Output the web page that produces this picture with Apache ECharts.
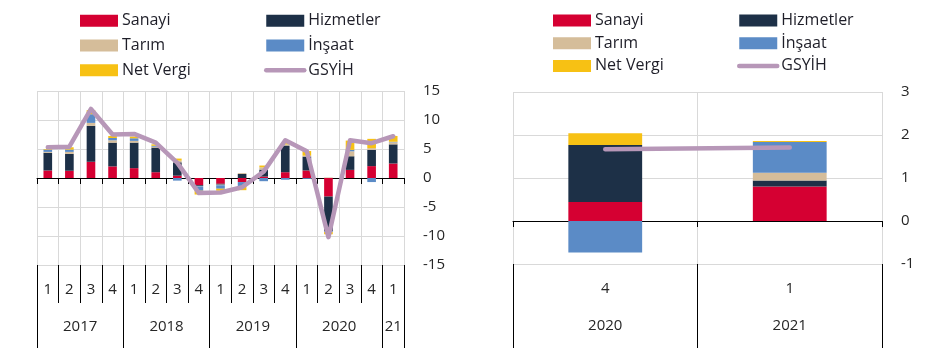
<!DOCTYPE html>
<html><head><meta charset="utf-8">
<script src="https://cdn.jsdelivr.net/npm/echarts@6/dist/echarts.min.js"></script>
<style>html,body{margin:0;padding:0;background:#fff}#c{width:935px;height:348px}</style>
</head><body><div id="c"></div>
<script>
// ---------- Left panel data (annual % change contributions) ----------
const quarters = ['1','2','3','4','1','2','3','4','1','2','3','4','1','2','3','4','1'];
const years = ['2017','2018','2019','2020','21'];
const yearQuarterCounts = [4,4,4,4,1];
const sanayi    = [1.3, 1.25, 2.8, 2.0, 1.7, 1.0, 0.4, -1.25, -1.0, -0.7, 0.25, 1.0, 1.3, -3.2, 1.4, 2.05, 2.5];
const hizmetler = [3.05, 2.9, 6.2, 4.1, 4.4, 4.25, 2.3, -0.15, -0.15, 0.7, 1.2, 4.6, 2.4, -6.0, 2.35, 2.8, 3.3];
const tarim     = [0.15, 0.35, 0.5, 0.4, 0.3, 0.15, 0.3, -0.05, -0.1, 0.15, 0.4, 0.2, 0.15, 0.1, 0.85, 0.3, 0.35];
const insaat    = [0.4, 0.4, 1.5, 0.4, 0.45, 0.15, -0.45, -0.75, -0.6, -0.7, -0.55, -0.3, -0.15, -0.1, 0.25, -0.7, 0.1];
const netVergi  = [0.1, 0.4, 0.7, 0.35, 0.3, 0.25, 0.35, -0.65, -0.35, -0.7, 0.3, 0.2, 0.8, -0.4, 1.6, 1.6, 1.0];
const gsyih     = [5.3, 5.4, 11.9, 7.5, 7.6, 6.1, 2.6, -2.6, -2.5, -1.6, 1.1, 6.5, 4.6, -10.2, 6.5, 6.0, 7.2];
const leftTicks = {min: -15, max: 15, interval: 5};

// ---------- Right panel data (quarterly % change contributions) ----------
const rQuarters = ['4','1'];
const rYears = ['2020','2021'];
const rSanayi    = [0.44, 0.80];
const rHizmetler = [1.33, 0.14];
const rTarim     = [0.0, 0.18];
const rInsaat    = [-0.73, 0.72];
const rNetVergi  = [0.27, 0.02];
const rGsyih     = [1.67, 1.71];
const rightTicks = {min: -1, max: 3, interval: 1};

const colors = {'Sanayi':'#d50032','Hizmetler':'#1d3047','Tarım':'#d5bd9a','İnşaat':'#5b8bc6','Net Vergi':'#f7c114','GSYİH':'#b797b8'};

// year boundaries / label centers derived from quarter counts
const yearBounds = [0];
const yearCenters = [];
yearQuarterCounts.forEach(n => { const s = yearBounds[yearBounds.length-1]; yearCenters.push(s + n/2); yearBounds.push(s + n); });

const FONT = 'Open Sans';
const TXT = '#262626';
const GRIDC = '#d9d9d9';

function bar(name, data, xi, yi, stack) {
  return {name, type:'bar', data, xAxisIndex:xi, yAxisIndex:yi, stack, barWidth:'40%',
    itemStyle:{color:colors[name]}, emphasis:{disabled:true}};
}
function line(data, xi, yi) {
  return {name:'GSYİH', type:'line', data, xAxisIndex:xi, yAxisIndex:yi, symbol:'none', z:5,
    lineStyle:{color:colors['GSYİH'], width:4.5, cap:'round', join:'round'}, itemStyle:{color:colors['GSYİH']},
    emphasis:{disabled:true}};
}
function legend(left, top, data, gap) {
  return {left, top, orient:'vertical', padding:0, itemWidth:38, itemHeight:12, itemGap:gap,
    selectedMode:false,
    data: data.map(n => n === 'GSYİH'
      ? {name:n, itemStyle:{opacity:0}, lineStyle:{width:4.5, cap:'round', color:colors['GSYİH']}}
      : {name:n, icon:'rect'}),
    textStyle:{fontFamily:FONT, fontSize:16, color:'#1e1e28', lineHeight:16, padding:[0,0,0,-1]}};
}

const option = {
  animation:false,
  legend:[
    legend(80, 12.8, ['Sanayi','Tarım','Net Vergi'], 8.7),
    legend(264, 12.8, ['Hizmetler','İnşaat','GSYİH'], 8.7),
    legend(553, 12.5, ['Sanayi','Tarım','Net Vergi'], 6.7),
    legend(737, 12.5, ['Hizmetler','İnşaat','GSYİH'], 6.7)
  ],
  grid:[
    {left:37, width:367, top:91, height:174},
    {left:513, width:369, top:92, height:172}
  ],
  xAxis:[
    {gridIndex:0, type:'category', data:quarters, position:'bottom',
      axisLine:{onZero:true, lineStyle:{color:'#000', width:1}},
      axisTick:{show:true, interval:0, length:6, lineStyle:{color:'#000'}},
      axisLabel:{show:false, interval:0},
      splitLine:{show:true, interval:0, lineStyle:{color:GRIDC}}},
    {gridIndex:0, type:'category', data:quarters, position:'bottom',
      axisLine:{show:false, onZero:false},
      axisTick:{show:true, interval:0, length:38, lineStyle:{color:'#000'}},
      axisLabel:{interval:0, margin:17, fontFamily:FONT, fontSize:15, color:TXT},
      splitLine:{show:false}},
    {gridIndex:0, type:'value', min:0, max:yearBounds[yearBounds.length-1], position:'bottom',
      axisLine:{show:false, onZero:false},
      axisTick:{show:true, length:84, customValues:yearBounds, lineStyle:{color:'#000'}},
      axisLabel:{customValues:yearCenters, margin:54, fontFamily:FONT, fontSize:15, color:TXT,
        formatter:v => years[yearCenters.indexOf(v)]},
      splitLine:{show:false}},
    {gridIndex:1, type:'category', data:rQuarters, position:'bottom',
      axisLine:{onZero:true, lineStyle:{color:'#000', width:1}},
      axisTick:{show:true, interval:0, length:6, lineStyle:{color:'#000'}},
      axisLabel:{show:false},
      splitLine:{show:true, interval:0, lineStyle:{color:GRIDC}}},
    {gridIndex:1, type:'category', data:rQuarters, position:'bottom',
      axisLine:{show:false, onZero:false},
      axisTick:{show:true, interval:0, length:84, lineStyle:{color:'#000'}},
      axisLabel:{interval:0, margin:17, fontFamily:FONT, fontSize:15, color:TXT},
      splitLine:{show:false}},
    {gridIndex:1, type:'category', data:rYears, position:'bottom',
      axisLine:{show:false, onZero:false},
      axisTick:{show:false},
      axisLabel:{interval:0, margin:54, fontFamily:FONT, fontSize:15, color:TXT},
      splitLine:{show:false}}
  ],
  yAxis:[
    {gridIndex:0, type:'value', position:'right', min:leftTicks.min, max:leftTicks.max, interval:leftTicks.interval,
      axisLine:{show:false}, axisTick:{show:false},
      axisLabel:{align:'left', margin:19, fontFamily:FONT, fontSize:15, color:TXT},
      splitLine:{lineStyle:{color:GRIDC}}},
    {gridIndex:1, type:'value', position:'right', min:rightTicks.min, max:rightTicks.max, interval:rightTicks.interval,
      axisLine:{show:false}, axisTick:{show:false},
      axisLabel:{align:'left', margin:19, fontFamily:FONT, fontSize:15, color:TXT},
      splitLine:{lineStyle:{color:GRIDC}}}
  ],
  series:[
    bar('Sanayi', sanayi, 0, 0, 'L'),
    bar('Hizmetler', hizmetler, 0, 0, 'L'),
    bar('Tarım', tarim, 0, 0, 'L'),
    bar('İnşaat', insaat, 0, 0, 'L'),
    bar('Net Vergi', netVergi, 0, 0, 'L'),
    line(gsyih, 0, 0),
    bar('Sanayi', rSanayi, 3, 1, 'R'),
    bar('Hizmetler', rHizmetler, 3, 1, 'R'),
    bar('Tarım', rTarim, 3, 1, 'R'),
    bar('İnşaat', rInsaat, 3, 1, 'R'),
    bar('Net Vergi', rNetVergi, 3, 1, 'R'),
    line(rGsyih, 3, 1)
  ]
};
const chart = echarts.init(document.getElementById('c'));
chart.setOption(option);
</script>
</body></html>
